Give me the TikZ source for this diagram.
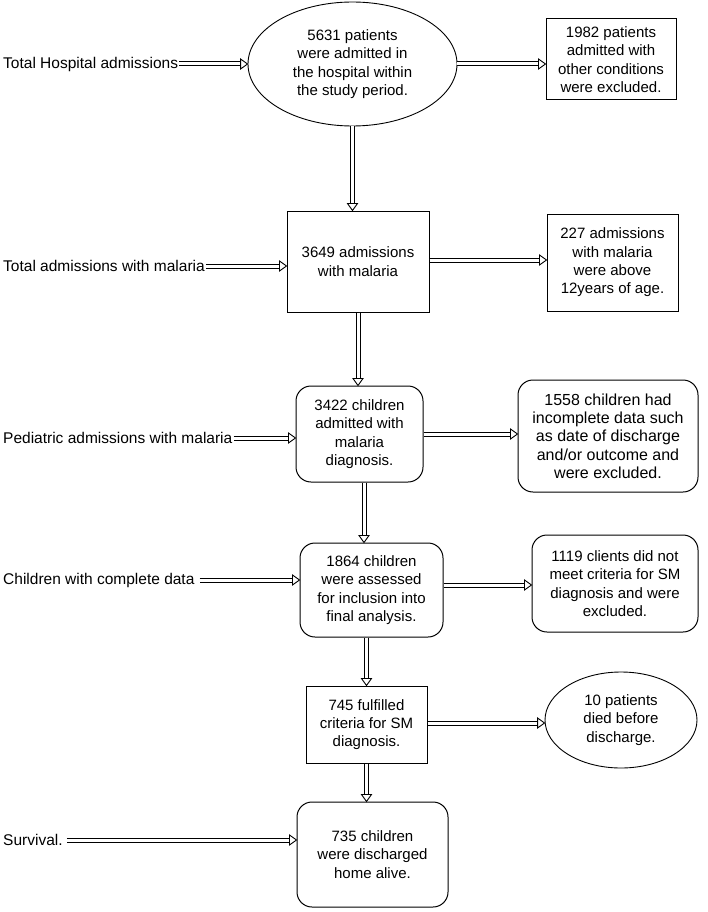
\documentclass[tikz,border=0pt]{standalone}
\usepackage{fontspec}
\setmainfont{Liberation Sans}
\usetikzlibrary{shapes.geometric,decorations.markings}
\tikzset{
  txt/.style={font=\fontsize{15}{18.3}\selectfont, align=center, inner sep=0pt},
  lab/.style={font=\fontsize{15.5}{18}\selectfont, anchor=west, inner xsep=1pt, inner ysep=0pt},
  sq/.style={txt, draw, line width=1pt},
  rbox/.style={txt, draw, line width=1pt, rounded corners=15pt},
  ell/.style={txt, draw, ellipse, line width=0.9pt},
  hollow/.style={
    preaction={draw, double, double distance=3pt, line width=1pt, shorten >=5pt},
    postaction={decorate, decoration={markings, mark=at position 1 with {
      \draw[line width=0.9pt, fill=white, line join=miter] (-7pt,5pt) -- (0pt,0pt) -- (-7pt,-5pt) -- cycle;}}}}
}
\begin{document}
\begin{tikzpicture}[x=1pt, y=-1pt]
\useasboundingbox (0,0) rectangle (708,912);
% main column
\node[ell, minimum width=209pt, minimum height=124pt] (e1) at (352.5,64)
  {5631 patients\\were admitted in\\the hospital within\\the study period.};
\node[sq, minimum width=142pt, minimum height=101pt] (b2) at (358,261.5)
  {3649 admissions\\with malaria};
\node[rbox, minimum width=127pt, minimum height=96pt] (b3) at (359.5,434)
  {3422 children\\admitted with\\malaria\\diagnosis.};
\node[rbox, minimum width=143pt, minimum height=94pt] (b4) at (371.5,590)
  {1864 children\\were assessed\\for inclusion into\\final analysis.};
\node[sq, minimum width=121pt, minimum height=77pt] (b5) at (366.5,724.5)
  {745 fulfilled\\criteria for SM\\diagnosis.};
\node[rbox, minimum width=151pt, minimum height=105pt] (b6) at (372.5,854.5)
  {735 children\\were discharged\\home alive.};
% right column
\node[sq, minimum width=130pt, minimum height=81pt] (r1) at (611,59.5)
  {1982 patients\\admitted with\\other conditions\\were excluded.};
\node[sq, minimum width=131pt, minimum height=97pt] (r2) at (612.5,262.5)
  {227 admissions\\with malaria\\were above\\12years of age.};
\node[rbox, minimum width=180pt, minimum height=112pt, font=\fontsize{16}{18.3}\selectfont] (r3) at (608,436)
  {1558 children had\\incomplete data such\\as date of discharge\\and/or outcome and\\were excluded.};
\node[rbox, minimum width=166pt, minimum height=97pt] (r4) at (615,583.5)
  {1119 clients did not\\meet criteria for SM\\diagnosis and were\\excluded.};
\node[ell, minimum width=152pt, minimum height=96pt] (e5) at (621,720)
  {10 patients\\died before\\discharge.};
% left labels
\node[lab] (l1) at (2,64) {Total Hospital admissions};
\node[lab] (l2) at (2,266) {Total admissions with malaria};
\node[lab] (l3) at (2,438) {Pediatric admissions with malaria};
\node[lab] (l4) at (2,580) {Children with complete data};
\node[lab] (l5) at (2,840) {Survival.};
% left arrows
\path[hollow] (l1.east) -- (l1.east -| e1.west);
\path[hollow] (l2.east) -- (l2.east -| b2.west);
\path[hollow] (l3.east) -- (l3.east -| b3.west);
\path[hollow] ([xshift=4pt]l4.east) -- (l4.east -| b4.west);
\path[hollow] ([xshift=3pt]l5.east) -- (l5.east -| b6.west);
% right arrows
\path[hollow] (e1.east) -- (e1.east -| r1.west);
\path[hollow] ([yshift=1.5pt]b2.east) -- ([yshift=1.5pt]b2.east -| r2.west);
\path[hollow] (b3.east) -- (b3.east -| r3.west);
\path[hollow] (b4.east |- 0,585) -- (r4.west |- 0,585);
\path[hollow] (b5.east |- 0,723) -- (e5.west |- 0,723);
% down arrows
\path[hollow] (e1.south) -- (e1.south |- b2.north);
\path[hollow] (b2.south) -- (b2.south |- b3.north);
\path[hollow] ([xshift=4.5pt]b3.south) -- ([xshift=4.5pt]b3.south |- b4.north);
\path[hollow] (b5.north |- b4.south) -- (b5.north);
\path[hollow] (b5.south) -- (b5.south |- b6.north);
\end{tikzpicture}
\end{document}
